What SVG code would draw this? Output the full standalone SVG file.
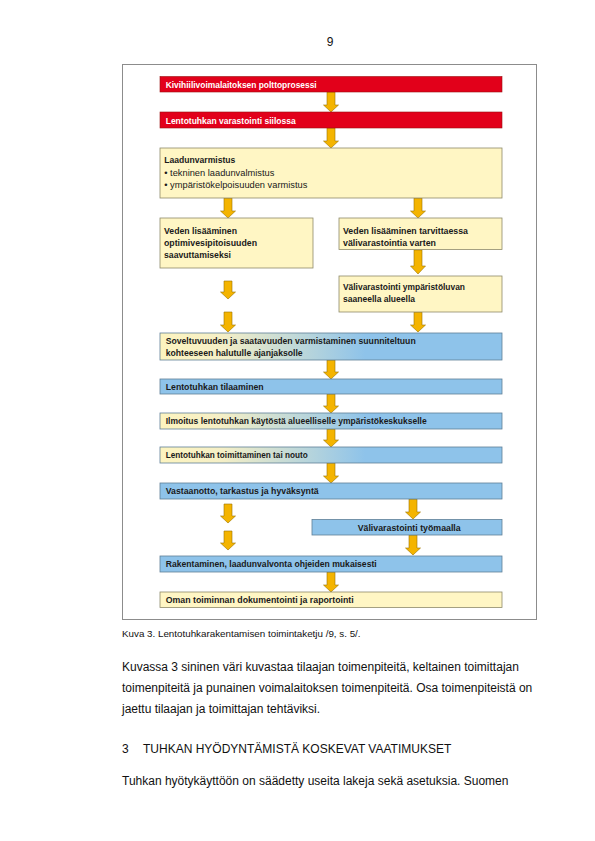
<svg xmlns="http://www.w3.org/2000/svg" width="595" height="841" viewBox="0 0 595 841">
<defs>
<linearGradient id="yb" x1="0" y1="0" x2="1" y2="0">
<stop offset="0" stop-color="#fdf4bf"/>
<stop offset="0.18" stop-color="#f5efc6"/>
<stop offset="0.6" stop-color="#8ec3ea"/>
<stop offset="1" stop-color="#8ec3ea"/>
</linearGradient>
<style>
.page{font-family:"Liberation Sans",Arial,sans-serif;fill:#111}
.frame{fill:#fff;stroke:#8c8c8c;stroke-width:1}
.red{fill:#e2001a;stroke:#9a1010;stroke-width:0.6}
.yel{fill:#fff6c4;stroke:#8e8a6a;stroke-width:0.8}
.blu{fill:#8ec3ea;stroke:#5f7f97;stroke-width:0.8}
.grd{fill:url(#yb);stroke:#5f7f97;stroke-width:0.8}
.lb{font-family:"Liberation Sans",Arial,sans-serif;font-weight:bold;font-size:9.5px;fill:#1a1a1a}
.lr{font-family:"Liberation Sans",Arial,sans-serif;font-size:9.5px;fill:#1a1a1a}
.wt{fill:#fff}
.arr{fill:#f4b400;stroke:#9a7400;stroke-width:0.6}
</style>
</defs>
<rect width="595" height="841" fill="#fff"/>
<text class="page" x="330" y="46" font-size="12" text-anchor="middle">9</text>
<rect class="frame" x="122.5" y="64.5" width="414" height="555"/>

<g id="connectors">
<path class="arr" d="M327,92 H335 V105 H338.5 L331,112 L323.5,105 H327 Z"/>
<path class="arr" d="M327,128 H335 V141 H338.5 L331,148 L323.5,141 H327 Z"/>
<path class="arr" d="M224,198 H232 V211 H235.5 L228,218 L220.5,211 H224 Z"/>
<path class="arr" d="M414,198 H422 V211 H425.5 L418,218 L410.5,211 H414 Z"/>
<path class="arr" d="M414,250 H422 V266 H425.5 L418,274 L410.5,266 H414 Z"/>
<path class="arr" d="M224,281 H232 V292 H235.5 L228,299 L220.5,292 H224 Z"/>
<path class="arr" d="M224,312 H232 V325 H235.5 L228,332 L220.5,325 H224 Z"/>
<path class="arr" d="M414,312 H422 V325 H425.5 L418,332 L410.5,325 H414 Z"/>
<path class="arr" d="M327,360 H335 V372 H338.5 L331,379 L323.5,372 H327 Z"/>
<path class="arr" d="M327,394 H335 V406 H338.5 L331,413 L323.5,406 H327 Z"/>
<path class="arr" d="M327,429 H335 V440 H338.5 L331,447 L323.5,440 H327 Z"/>
<path class="arr" d="M327,463 H335 V476 H338.5 L331,483 L323.5,476 H327 Z"/>
<path class="arr" d="M224,504 H232 V516 H235.5 L228,523 L220.5,516 H224 Z"/>
<path class="arr" d="M224,531 H232 V543 H235.5 L228,550 L220.5,543 H224 Z"/>
<path class="arr" d="M409,499 H417 V512 H420.5 L413,519 L405.5,512 H409 Z"/>
<path class="arr" d="M409,535 H417 V548 H420.5 L413,555 L405.5,548 H409 Z"/>
<path class="arr" d="M327,572 H335 V585 H338.5 L331,592 L323.5,585 H327 Z"/>
</g>

<g id="n1"><rect class="red" x="160" y="76.5" width="342" height="15.5"/>
<text class="lb wt" x="165.7" y="87.8" textLength="151" lengthAdjust="spacingAndGlyphs">Kivihiilivoimalaitoksen polttoprosessi</text></g>
<g id="n2"><rect class="red" x="160" y="112" width="342" height="16"/>
<text class="lb wt" x="165.7" y="123.8" textLength="130" lengthAdjust="spacingAndGlyphs">Lentotuhkan varastointi siilossa</text></g>
<g id="n3"><rect class="yel" x="160" y="148" width="342" height="50"/>
<text class="lb" x="164.3" y="163" textLength="71" lengthAdjust="spacingAndGlyphs">Laadunvarmistus</text>
<text class="lr" x="164.3" y="175.5" textLength="110" lengthAdjust="spacingAndGlyphs">• tekninen laadunvalmistus</text>
<text class="lr" x="164.3" y="188" textLength="143" lengthAdjust="spacingAndGlyphs">• ympäristökelpoisuuden varmistus</text></g>
<g id="n4"><rect class="yel" x="160" y="218" width="153" height="50"/>
<text class="lb" x="164" y="234" textLength="73" lengthAdjust="spacingAndGlyphs">Veden lisääminen</text>
<text class="lb" x="164" y="246" textLength="93" lengthAdjust="spacingAndGlyphs">optimivesipitoisuuden</text>
<text class="lb" x="164" y="258" textLength="67" lengthAdjust="spacingAndGlyphs">saavuttamiseksi</text></g>
<g id="n5"><rect class="yel" x="339" y="218" width="163" height="31.5"/>
<text class="lb" x="343" y="234" textLength="125" lengthAdjust="spacingAndGlyphs">Veden lisääminen tarvittaessa</text>
<text class="lb" x="343" y="246" textLength="93" lengthAdjust="spacingAndGlyphs">välivarastointia varten</text></g>
<g id="n6"><rect class="yel" x="339" y="276" width="163" height="36"/>
<text class="lb" x="343" y="290" textLength="122" lengthAdjust="spacingAndGlyphs">Välivarastointi ympäristöluvan</text>
<text class="lb" x="343" y="302" textLength="72" lengthAdjust="spacingAndGlyphs">saaneella alueella</text></g>
<g id="n7"><rect class="grd" x="160" y="333" width="342" height="27"/>
<text class="lb" x="165.7" y="344" textLength="250" lengthAdjust="spacingAndGlyphs">Soveltuvuuden ja saatavuuden varmistaminen suunniteltuun</text>
<text class="lb" x="165.7" y="355.5" textLength="137" lengthAdjust="spacingAndGlyphs">kohteeseen halutulle ajanjaksolle</text></g>
<g id="n8"><rect class="blu" x="160" y="379" width="342" height="15"/>
<text class="lb" x="165.7" y="389.8" textLength="98" lengthAdjust="spacingAndGlyphs">Lentotuhkan tilaaminen</text></g>
<g id="n9"><rect class="grd" x="160" y="413" width="342" height="16"/>
<text class="lb" x="165.7" y="424.3" textLength="261" lengthAdjust="spacingAndGlyphs">Ilmoitus lentotuhkan käytöstä alueelliselle ympäristökeskukselle</text></g>
<g id="n10"><rect class="grd" x="160" y="447" width="342" height="16"/>
<text class="lb" x="165.7" y="458.3" textLength="142" lengthAdjust="spacingAndGlyphs">Lentotuhkan toimittaminen tai nouto</text></g>
<g id="n11"><rect class="blu" x="160" y="483" width="342" height="16"/>
<text class="lb" x="165.7" y="494.3" textLength="153" lengthAdjust="spacingAndGlyphs">Vastaanotto, tarkastus ja hyväksyntä</text></g>
<g id="n12"><rect class="blu" x="312" y="519.5" width="190" height="15.5"/>
<text class="lb" x="357.7" y="530.8" textLength="103" lengthAdjust="spacingAndGlyphs">Välivarastointi työmaalla</text></g>
<g id="n13"><rect class="blu" x="160" y="556" width="342" height="16"/>
<text class="lb" x="165.7" y="567.3" textLength="211" lengthAdjust="spacingAndGlyphs">Rakentaminen, laadunvalvonta ohjeiden mukaisesti</text></g>
<g id="n14"><rect class="yel" x="160" y="592" width="342" height="15.5"/>
<text class="lb" x="165.7" y="603" textLength="188" lengthAdjust="spacingAndGlyphs">Oman toiminnan dokumentointi ja raportointi</text></g>

<text class="page" x="122" y="637" font-size="9.8">Kuva 3. Lentotuhkarakentamisen toimintaketju /9, s. 5/.</text>
<text class="page" x="122" y="671" font-size="12">Kuvassa 3 sininen väri kuvastaa tilaajan toimenpiteitä, keltainen toimittajan</text>
<text class="page" x="122" y="692" font-size="12">toimenpiteitä ja punainen voimalaitoksen toimenpiteitä. Osa toimenpiteistä on</text>
<text class="page" x="122" y="713" font-size="12">jaettu tilaajan ja toimittajan tehtäviksi.</text>
<text class="page" x="122" y="753" font-size="12">3</text>
<text class="page" x="143" y="753" font-size="12">TUHKAN HYÖDYNTÄMISTÄ KOSKEVAT VAATIMUKSET</text>
<text class="page" x="122" y="785" font-size="12">Tuhkan hyötykäyttöön on säädetty useita lakeja sekä asetuksia. Suomen</text>
</svg>
